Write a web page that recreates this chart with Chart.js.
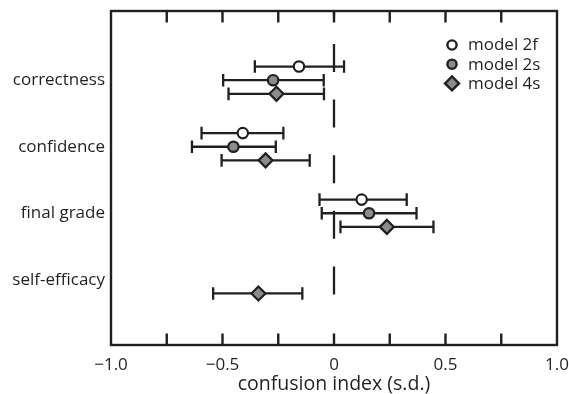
<html lang="en">
<head>
    <meta charset="UTF-8">
    <title>confusion index</title>
    <script src="https://cdn.jsdelivr.net/npm/chart.js"></script>
    <style>
        html, body { margin: 0; padding: 0; background: #fff; }
        #wrap { width: 569px; height: 394px; }
    </style>
</head>
<body>
<div id="wrap"><canvas id="confChart" width="569" height="394"></canvas></div>

<script>
    // data
    const categories = ['correctness', 'confidence', 'final grade', 'self-efficacy'];

    const model2fMean = [-0.157, -0.409, 0.124, null];
    const model2fLow  = [-0.355, -0.594, -0.065, null];
    const model2fHigh = [0.045, -0.227, 0.326, null];

    const model2sMean = [-0.273, -0.451, 0.157, null];
    const model2sLow  = [-0.497, -0.637, -0.055, null];
    const model2sHigh = [-0.046, -0.261, 0.370, null];

    const model4sMean = [-0.258, -0.307, 0.237, -0.339];
    const model4sLow  = [-0.473, -0.504, 0.029, -0.542];
    const model4sHigh = [-0.045, -0.109, 0.446, -0.142];

    const xTickValues = [-1, -0.75, -0.5, -0.25, 0, 0.25, 0.5, 0.75, 1];
    const xTickLabels = ['\u22121.0', '', '\u22120.5', '', '0', '', '0.5', '', '1.0'];

    const ink = '#231f20';
    const gray = '#8c8c8c';
    const fontFamily = '"Open Sans", sans-serif';

    // each model sits a little above / below the category line
    function buildPoints(mean, low, high, offset) {
        const pts = [];
        categories.forEach((c, i) => {
            if (mean[i] === null) return;
            pts.push({ x: mean[i], y: i + offset, lo: low[i], hi: high[i] });
        });
        return pts;
    }

    const datasets = [
        { label: 'model 2f', data: buildPoints(model2fMean, model2fLow, model2fHigh, -0.205),
          pointStyle: 'circle', pointRadius: 5.2, backgroundColor: '#ffffff' },
        { label: 'model 2s', data: buildPoints(model2sMean, model2sLow, model2sHigh, 0),
          pointStyle: 'circle', pointRadius: 5.2, backgroundColor: gray },
        { label: 'model 4s', data: buildPoints(model4sMean, model4sLow, model4sHigh, 0.205),
          pointStyle: 'rectRot', pointRadius: 7, backgroundColor: gray }
    ];
    datasets.forEach(ds => {
        ds.borderColor = ink;
        ds.borderWidth = 2.2;
        ds.pointHoverRadius = ds.pointRadius;
        ds.showLine = false;
    });

    // error bars, zero line, frame, inward ticks, legend
    const decorations = {
        id: 'decorations',
        beforeDatasetsDraw(chart) {
            const { ctx, chartArea: a, scales: { x, y } } = chart;
            ctx.save();
            ctx.strokeStyle = ink;
            ctx.lineWidth = 2.3;

            // dashed line at zero
            const x0 = x.getPixelForValue(0);
            ctx.setLineDash([28, 27.6]);
            ctx.lineDashOffset = 22.6;
            ctx.beginPath();
            ctx.moveTo(x0, a.top);
            ctx.lineTo(x0, a.bottom - 23);
            ctx.stroke();
            ctx.setLineDash([]);

            // error bars
            const cap = 6.3;
            chart.data.datasets.forEach(ds => {
                ds.data.forEach(p => {
                    const py = y.getPixelForValue(p.y);
                    const x1 = x.getPixelForValue(p.lo);
                    const x2 = x.getPixelForValue(p.hi);
                    ctx.beginPath();
                    ctx.moveTo(x1, py); ctx.lineTo(x2, py);
                    ctx.moveTo(x1, py - cap); ctx.lineTo(x1, py + cap);
                    ctx.moveTo(x2, py - cap); ctx.lineTo(x2, py + cap);
                    ctx.stroke();
                });
            });
            ctx.restore();
        },
        afterDraw(chart) {
            const { ctx, chartArea: a, scales: { x } } = chart;
            ctx.save();
            ctx.strokeStyle = ink;
            ctx.lineWidth = 2.4;
            ctx.strokeRect(a.left, a.top, a.right - a.left, a.bottom - a.top);

            // ticks pointing into the plot, top and bottom
            const tl = 11.5;
            x.ticks.forEach(t => {
                const px = x.getPixelForValue(t.value);
                if (px <= a.left + 1 || px >= a.right - 1) return;
                ctx.beginPath();
                ctx.moveTo(px, a.bottom); ctx.lineTo(px, a.bottom - tl);
                ctx.moveTo(px, a.top); ctx.lineTo(px, a.top + tl);
                ctx.stroke();
            });

            // legend, top right inside the frame
            const mx = a.right - 105;
            ctx.font = '17px ' + fontFamily;
            ctx.textBaseline = 'middle';
            ctx.fillStyle = ink;
            chart.data.datasets.forEach((ds, i) => {
                const my = a.top + 34 + i * 19.2;
                ctx.save();
                ctx.lineWidth = 2.4;
                ctx.strokeStyle = ink;
                ctx.fillStyle = ds.backgroundColor;
                ctx.beginPath();
                if (ds.pointStyle === 'rectRot') {
                    const r = 7;
                    ctx.moveTo(mx, my - r); ctx.lineTo(mx + r, my);
                    ctx.lineTo(mx, my + r); ctx.lineTo(mx - r, my);
                    ctx.closePath();
                } else {
                    ctx.arc(mx, my, 4.6, 0, Math.PI * 2);
                }
                ctx.fill();
                ctx.stroke();
                ctx.restore();
                ctx.fillText(ds.label, mx + 16, my + 0.5);
            });
            ctx.restore();
        }
    };

    const config = {
        type: 'scatter',
        data: { datasets: datasets },
        options: {
            responsive: false,
            animation: false,
            layout: { padding: { top: 11, right: 12, left: 0, bottom: 0 } },
            plugins: {
                legend: { display: false },
                tooltip: { enabled: false }
            },
            scales: {
                x: {
                    type: 'linear',
                    min: -1,
                    max: 1,
                    afterBuildTicks: (scale) => { scale.ticks = xTickValues.map(v => ({ value: v })); },
                    afterFit: (scale) => {
                        scale.height = 49;
                        scale.paddingLeft = 0;
                        scale.paddingRight = 0;
                    },
                    grid: { display: false, drawTicks: false },
                    border: { display: false },
                    ticks: {
                        autoSkip: false,
                        maxRotation: 0,
                        padding: 10,
                        color: ink,
                        font: { family: fontFamily, size: 17 },
                        callback: (v, i) => xTickLabels[i]
                    },
                    title: {
                        display: true,
                        text: 'confusion index (s.d.)',
                        color: ink,
                        font: { family: fontFamily, size: 19.5, lineHeight: 1 },
                        padding: { top: 0, bottom: 0 }
                    }
                },
                y: {
                    type: 'linear',
                    min: -1.04,
                    max: 3.98,
                    reverse: true,
                    afterBuildTicks: (scale) => { scale.ticks = categories.map((c, i) => ({ value: i })); },
                    afterFit: (scale) => {
                        scale.width = 111;
                        scale.paddingTop = 0;
                        scale.paddingBottom = 0;
                    },
                    grid: { display: false, drawTicks: false },
                    border: { display: false },
                    ticks: {
                        padding: 6,
                        color: ink,
                        font: { family: fontFamily, size: 17 },
                        callback: (v) => categories[v]
                    }
                }
            }
        },
        plugins: [decorations]
    };

    const ctx = document.getElementById('confChart').getContext('2d');
    const chart = new Chart(ctx, config);
</script>
</body>
</html>
